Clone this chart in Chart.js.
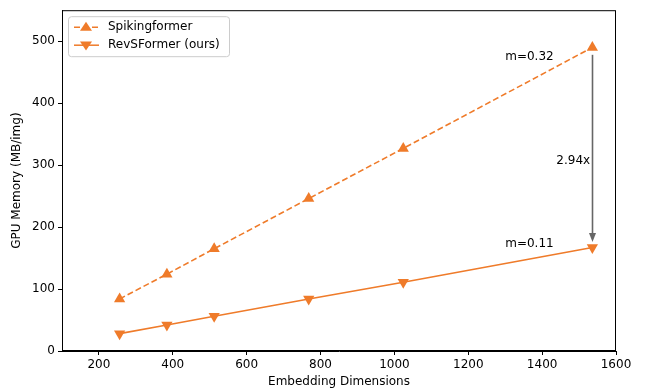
<!DOCTYPE html>
<html>
<head>
<meta charset="utf-8">
<script src="https://cdn.jsdelivr.net/npm/chart.js@4/dist/chart.umd.min.js"></script>
<style>
  html, body { margin: 0; padding: 0; background: #fff; }
  #wrap { width: 645px; height: 389px; }
</style>
</head>
<body>
<div id="wrap"><canvas id="chart"></canvas></div>
<script>
// embedding dims on x, memory per image on y
const dims = [256, 384, 512, 768, 1024, 1536];
const spikingformer = [84, 124, 165, 246, 327, 490];
const revsformer = [28, 42, 56, 84, 111, 167];
const xTicks = [200, 400, 600, 800, 1000, 1200, 1400, 1600];
const yTicks = [0, 100, 200, 300, 400, 500];
const slopeNotes = [
    { text: 'm=0.32', x: 1300, y: 470 },
    { text: 'm=0.11', x: 1300, y: 168 }
];
const ratioNote = { text: '2.94x', x: 1530, y: 307 };
const arrowFrom = { x: 1536, y: 478 };
const arrowTo = { x: 1536, y: 176 };

const orange = '#ef7b2a';
const font = 'DejaVu Sans';

// spines, annotations and the matplotlib-style legend
const extras = {
    id: 'extras',
    afterDatasetsDraw(chart) {
        const c = chart.ctx;
        const a = chart.chartArea;
        const xs = chart.scales.x, ys = chart.scales.y;
        c.save();

        // frame
        c.strokeStyle = '#000';
        c.lineWidth = 1;
        c.strokeRect(a.left + 0.5, a.top + 0.5, a.right - a.left - 1, a.bottom - a.top - 1);

        // text notes
        c.fillStyle = '#000';
        c.font = '12px "' + font + '"';
        c.textAlign = 'left';
        c.textBaseline = 'alphabetic';
        slopeNotes.forEach(n => c.fillText(n.text, xs.getPixelForValue(n.x), ys.getPixelForValue(n.y)));
        c.textAlign = 'right';
        c.textBaseline = 'middle';
        c.fillText(ratioNote.text, xs.getPixelForValue(ratioNote.x), ys.getPixelForValue(ratioNote.y));

        // gray arrow
        const ax = Math.round(xs.getPixelForValue(arrowFrom.x)) + 0.5;
        const y0 = ys.getPixelForValue(arrowFrom.y);
        const y1 = ys.getPixelForValue(arrowTo.y);
        c.strokeStyle = '#666';
        c.fillStyle = '#666';
        c.lineWidth = 1.6;
        c.beginPath();
        c.moveTo(ax, y0);
        c.lineTo(ax, y1 - 8);
        c.stroke();
        c.beginPath();
        c.moveTo(ax, y1);
        c.lineTo(ax - 3.5, y1 - 9);
        c.lineTo(ax + 3.5, y1 - 9);
        c.closePath();
        c.fill();

        // legend
        const lx = a.left + 6, ly = a.top + 6;
        c.fillStyle = 'rgba(255,255,255,0.8)';
        c.strokeStyle = '#ccc';
        c.lineWidth = 1;
        c.beginPath();
        c.roundRect(lx + 0.5, ly + 0.5, 161, 40, 3);
        c.fill();
        c.stroke();
        chart.data.datasets.forEach((ds, i) => {
            const cy = ly + 11 + i * 18;
            c.strokeStyle = orange;
            c.lineWidth = 1.5;
            c.setLineDash(ds.borderDash || []);
            c.beginPath();
            c.moveTo(lx + 6, cy);
            c.lineTo(lx + 31, cy);
            c.stroke();
            c.setLineDash([]);
            c.fillStyle = orange;
            const r = 6;
            const mx = lx + 18;
            c.beginPath();
            if (ds.pointRotation) {
                c.moveTo(mx - r, cy - r * 0.6);
                c.lineTo(mx + r, cy - r * 0.6);
                c.lineTo(mx, cy + r * 0.9);
            } else {
                c.moveTo(mx - r, cy + r * 0.6);
                c.lineTo(mx + r, cy + r * 0.6);
                c.lineTo(mx, cy - r * 0.9);
            }
            c.closePath();
            c.fill();
            c.fillStyle = '#000';
            c.font = '12px "' + font + '"';
            c.textAlign = 'left';
            c.textBaseline = 'middle';
            c.fillText(ds.label, lx + 40, cy);
        });
        c.restore();
    }
};

new Chart(document.getElementById('chart'), {
    type: 'line',
    data: {
        datasets: [{
            label: 'Spikingformer',
            data: dims.map((d, i) => ({ x: d, y: spikingformer[i] })),
            borderColor: orange,
            backgroundColor: orange,
            borderWidth: 1.6,
            borderDash: [6, 3],
            pointStyle: 'triangle',
            pointRadius: 6.5,
            pointBorderWidth: 0,
            tension: 0
        }, {
            label: 'RevSFormer (ours)',
            data: dims.map((d, i) => ({ x: d, y: revsformer[i] })),
            borderColor: orange,
            backgroundColor: orange,
            borderWidth: 1.6,
            pointStyle: 'triangle',
            pointRotation: 180,
            pointRadius: 6.5,
            pointBorderWidth: 0,
            tension: 0
        }]
    },
    options: {
        responsive: true,
        maintainAspectRatio: false,
        animation: false,
        layout: { padding: { top: 7, right: 29, left: 0, bottom: 0 } },
        plugins: { legend: { display: false }, tooltip: { enabled: false } },
        scales: {
            x: {
                type: 'linear',
                min: 100,
                max: 1600,
                afterBuildTicks: s => { s.ticks = xTicks.map(v => ({ value: v })); },
                afterFit: s => { s.height = 38; },
                grid: { drawOnChartArea: false, drawTicks: true, tickLength: 4, tickColor: '#000' },
                border: { display: true, color: '#000', width: 1 },
                ticks: { color: '#000', font: { family: font, size: 12 }, padding: 3, maxRotation: 0, callback: v => String(v) },
                title: { display: true, text: 'Embedding Dimensions', color: '#000', font: { family: font, size: 12 }, padding: { top: 0, bottom: 0 } }
            },
            y: {
                type: 'linear',
                min: 0,
                max: 550,
                afterBuildTicks: s => { s.ticks = yTicks.map(v => ({ value: v })); },
                afterFit: s => { s.width = 62; },
                grid: { drawOnChartArea: false, drawTicks: true, tickLength: 4, tickColor: '#000' },
                border: { display: true, color: '#000', width: 1 },
                ticks: { color: '#000', font: { family: font, size: 12 }, padding: 3, callback: v => String(v) },
                title: { display: true, text: 'GPU Memory (MB/img)', color: '#000', font: { family: font, size: 12 }, padding: { top: 10, bottom: 4 } }
            }
        }
    },
    plugins: [extras]
});
</script>
</body>
</html>
